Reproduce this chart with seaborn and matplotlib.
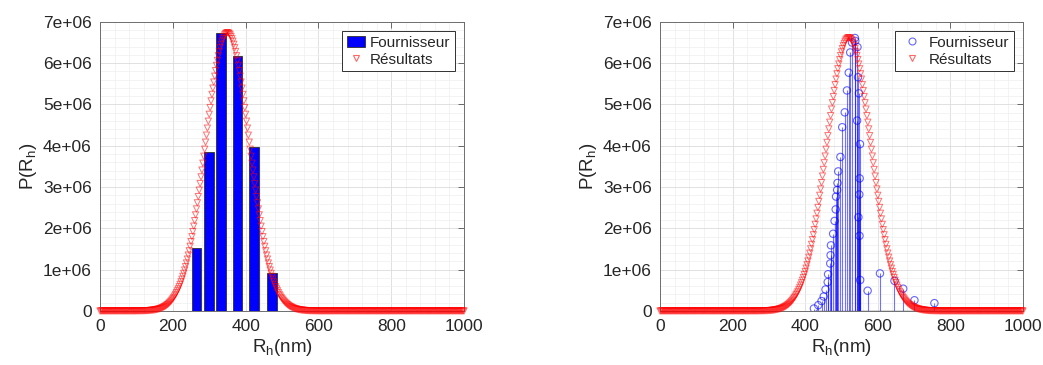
import numpy as np
import pandas as pd
import matplotlib
matplotlib.use("Agg")
import matplotlib.pyplot as plt
import seaborn as sns
from matplotlib.patches import Patch
from matplotlib.lines import Line2D
from matplotlib.ticker import MultipleLocator, FixedLocator, FixedFormatter

# ---------------- data (P values in units of 1e6) ----------------
bar_rh = [265, 300, 332, 377, 423, 472]
bar_p = [1.52, 3.86, 6.72, 6.17, 3.96, 0.91]

stem_rh = [424, 436, 445, 451, 456, 462, 463, 469, 470, 471, 477, 481, 484, 485,
           488, 489, 491, 497, 502, 509, 515, 520, 524, 529, 537, 538, 544, 545.5,
           548, 543, 551, 550, 549, 546.5, 549.5, 551.5, 572, 606, 646, 670, 701, 756]
stem_p = [0.06, 0.14, 0.24, 0.35, 0.52, 0.70, 0.89, 1.15, 1.35, 1.59, 1.87, 2.18, 2.46, 2.77,
          2.93, 3.10, 3.38, 3.73, 4.45, 4.81, 5.34, 5.77, 6.26, 6.50, 6.61, 6.54, 6.39, 5.66,
          5.27, 4.61, 4.04, 3.21, 2.82, 2.27, 1.82, 0.75, 0.49, 0.91, 0.73, 0.54, 0.26, 0.19]

fit_rh = np.arange(0, 1000.1, 2.5)

fit_left = [
    0, 0, 0, 0, 0, 0, 0, 0, 0, 0, 0, 0, 0, 0, 0, 0, 0, 0, 0, 0,
    0, 0, 0, 0, 0, 0, 0, 0, 0, 0, 0, 0, 0, 0, 0, 0, 0, 0, 0, 0,
    0.001,
    0.001, 0.001, 0.002, 0.002, 0.003, 0.003, 0.004, 0.004, 0.005, 0.006,
    0.007, 0.008, 0.009, 0.011, 0.013, 0.015, 0.017, 0.020, 0.023, 0.026,
    0.030, 0.034, 0.039, 0.045, 0.051, 0.058, 0.066, 0.075, 0.085, 0.096,
    0.108, 0.122, 0.137, 0.154, 0.172, 0.193, 0.215, 0.240, 0.267, 0.296,
    0.328, 0.363, 0.402, 0.443, 0.488, 0.536, 0.588, 0.645, 0.705, 0.770,
    0.839, 0.912, 0.991, 1.074, 1.162, 1.256, 1.354, 1.458, 1.567, 1.681,
    1.800, 1.924, 2.054, 2.188, 2.327, 2.471, 2.619, 2.771, 2.927, 3.086,
    3.248, 3.413, 3.579, 3.748, 3.918, 4.088, 4.258, 4.428, 4.596, 4.763,
    4.927, 5.088, 5.245, 5.397, 5.544, 5.686, 5.820, 5.948, 6.068, 6.180,
    6.282, 6.376, 6.459, 6.533, 6.595, 6.647, 6.688, 6.717, 6.734,
    6.740,
    6.734, 6.717, 6.688, 6.647, 6.595, 6.533, 6.459, 6.376, 6.282,
    6.180, 6.068, 5.948, 5.820, 5.686, 5.544, 5.397, 5.245, 5.088, 4.927,
    4.763, 4.596, 4.428, 4.258, 4.088, 3.918, 3.748, 3.579, 3.413, 3.248,
    3.086, 2.927, 2.771, 2.619, 2.471, 2.327, 2.188, 2.054, 1.924, 1.800,
    1.681, 1.567, 1.458, 1.354, 1.256, 1.162, 1.074, 0.991, 0.912, 0.839,
    0.770, 0.705, 0.645, 0.588, 0.536, 0.488, 0.443, 0.402, 0.363, 0.328,
    0.296, 0.267, 0.240, 0.215, 0.193, 0.172, 0.154, 0.137, 0.122, 0.108,
    0.096, 0.085, 0.075, 0.066, 0.058, 0.051, 0.045, 0.039, 0.034, 0.030,
    0.026, 0.023, 0.020, 0.017, 0.015, 0.013, 0.011, 0.009, 0.008, 0.007,
    0.006, 0.005, 0.004, 0.004, 0.003, 0.003, 0.002, 0.002, 0.001, 0.001,
    0.001,
    0, 0, 0, 0, 0, 0, 0, 0, 0, 0, 0, 0, 0, 0, 0, 0, 0, 0, 0, 0,
    0, 0, 0, 0, 0, 0, 0, 0, 0, 0, 0, 0, 0, 0, 0, 0, 0, 0, 0, 0,
    0, 0, 0, 0, 0, 0, 0, 0, 0, 0, 0, 0, 0, 0, 0, 0, 0, 0, 0, 0,
    0, 0, 0, 0, 0, 0, 0, 0, 0, 0, 0, 0, 0, 0, 0, 0, 0, 0, 0, 0,
    0, 0, 0, 0, 0, 0, 0, 0, 0, 0, 0, 0, 0, 0, 0, 0, 0, 0, 0, 0,
    0, 0, 0, 0, 0, 0, 0, 0, 0, 0, 0, 0, 0, 0, 0, 0, 0, 0, 0, 0,
    0, 0, 0, 0, 0, 0, 0, 0, 0, 0, 0, 0, 0, 0, 0, 0, 0, 0, 0, 0,
    0, 0, 0, 0, 0, 0, 0, 0, 0, 0, 0, 0, 0, 0, 0, 0, 0, 0, 0, 0,
]

fit_right = [
    0, 0, 0, 0, 0, 0, 0, 0, 0, 0, 0, 0, 0, 0, 0, 0, 0, 0, 0, 0,
    0, 0, 0, 0, 0, 0, 0, 0, 0, 0, 0, 0, 0, 0, 0, 0, 0, 0, 0, 0,
    0, 0, 0, 0, 0, 0, 0, 0, 0, 0, 0, 0, 0, 0, 0, 0, 0, 0, 0, 0,
    0, 0, 0, 0, 0, 0, 0, 0, 0, 0, 0, 0, 0, 0, 0, 0, 0, 0, 0, 0,
    0, 0, 0, 0, 0, 0, 0, 0, 0, 0, 0, 0, 0, 0, 0, 0, 0, 0, 0, 0,
    0, 0, 0, 0, 0, 0, 0, 0,
    0.001,
    0.002, 0.002, 0.002, 0.003, 0.003, 0.004, 0.005, 0.005, 0.006, 0.007,
    0.009, 0.010, 0.011, 0.013, 0.015, 0.018, 0.020, 0.023, 0.027, 0.031,
    0.035, 0.040, 0.046, 0.052, 0.059, 0.067, 0.075, 0.085, 0.096, 0.108,
    0.121, 0.136, 0.153, 0.171, 0.190, 0.212, 0.236, 0.262, 0.291, 0.322,
    0.356, 0.393, 0.432, 0.475, 0.522, 0.572, 0.626, 0.683, 0.745, 0.811,
    0.881, 0.956, 1.036, 1.120, 1.209, 1.302, 1.401, 1.505, 1.613, 1.727,
    1.845, 1.969, 2.097, 2.229, 2.366, 2.507, 2.653, 2.801, 2.954, 3.109,
    3.267, 3.427, 3.589, 3.752, 3.917, 4.081, 4.245, 4.409, 4.571, 4.731,
    4.889, 5.043, 5.193, 5.339, 5.480, 5.615, 5.744, 5.866, 5.980, 6.087,
    6.185, 6.274, 6.353, 6.423, 6.482, 6.532, 6.570, 6.598, 6.614,
    6.620,
    6.614, 6.598, 6.570, 6.532, 6.482, 6.423, 6.353, 6.274, 6.185,
    6.087, 5.980, 5.866, 5.744, 5.615, 5.480, 5.339, 5.193, 5.043, 4.889,
    4.731, 4.571, 4.409, 4.245, 4.081, 3.917, 3.752, 3.589, 3.427, 3.267,
    3.109, 2.954, 2.801, 2.653, 2.507, 2.366, 2.229, 2.097, 1.969, 1.845,
    1.727, 1.613, 1.505, 1.401, 1.302, 1.209, 1.120, 1.036, 0.956, 0.881,
    0.811, 0.745, 0.683, 0.626, 0.572, 0.522, 0.475, 0.432, 0.393, 0.356,
    0.322, 0.291, 0.262, 0.236, 0.212, 0.190, 0.171, 0.153, 0.136, 0.121,
    0.108, 0.096, 0.085, 0.075, 0.067, 0.059, 0.052, 0.046, 0.040, 0.035,
    0.031, 0.027, 0.023, 0.020, 0.018, 0.015, 0.013, 0.011, 0.010, 0.009,
    0.007, 0.006, 0.005, 0.005, 0.004, 0.003, 0.003, 0.002, 0.002, 0.002,
    0.001,
    0, 0, 0, 0, 0, 0, 0, 0, 0, 0, 0, 0, 0, 0, 0, 0, 0, 0, 0, 0,
    0, 0, 0, 0, 0, 0, 0, 0, 0, 0, 0, 0, 0, 0, 0, 0, 0, 0, 0, 0,
    0, 0, 0, 0, 0, 0, 0, 0, 0, 0, 0, 0, 0, 0, 0, 0, 0, 0, 0, 0,
    0, 0, 0, 0, 0, 0, 0, 0, 0, 0, 0, 0, 0, 0, 0, 0, 0, 0, 0, 0,
    0, 0, 0, 0, 0, 0, 0, 0, 0, 0, 0, 0,
]

x_ticks = [0, 200, 400, 600, 800, 1000]
x_tick_labels = ["0", "200", "400", "600", "800", "1000"]
y_ticks = [0, 1e6, 2e6, 3e6, 4e6, 5e6, 6e6, 7e6]
y_tick_labels = ["0", "1e+06", "2e+06", "3e+06", "4e+06", "5e+06", "6e+06", "7e+06"]
series_names = ["Fournisseur", "Résultats"]

SCALE = 1e6
df_bar = pd.DataFrame({"rh": bar_rh, "p": np.array(bar_p) * SCALE})
df_stem = pd.DataFrame({"rh": stem_rh, "p": np.array(stem_p) * SCALE})
df_fit_l = pd.DataFrame({"rh": fit_rh, "p": np.array(fit_left) * SCALE})
df_fit_r = pd.DataFrame({"rh": fit_rh, "p": np.array(fit_right) * SCALE})

# ---------------- style ----------------
sns.set_theme(style="white")
plt.rcParams["font.family"] = ["Liberation Sans", "DejaVu Sans"]
plt.rcParams["mathtext.fontset"] = "custom"
plt.rcParams["mathtext.rm"] = "Liberation Sans"
plt.rcParams["mathtext.it"] = "Liberation Sans"

fig = plt.figure(figsize=(10.43, 3.65), dpi=100)
ax1 = fig.add_axes([0.0959, 0.148, 0.349, 0.792])
ax2 = fig.add_axes([0.6328, 0.148, 0.348, 0.792])

BLUE = "#0000ff"
RED = "#ff0000"

# left: bars + fitted markers
sns.barplot(data=df_bar, x="rh", y="p", native_scale=True, width=26 / 32,
            color=BLUE, saturation=1, edgecolor="#303030", linewidth=0.6,
            ax=ax1, zorder=2)
sns.scatterplot(data=df_fit_l, x="rh", y="p", marker="v", s=20,
                color=RED, facecolor="none", edgecolor=RED, linewidth=0.7,
                alpha=0.55, clip_on=False, legend=False, ax=ax1, zorder=3)

# right: stems + circles + fitted markers
ax2.vlines(df_stem["rh"], 0, df_stem["p"], colors=BLUE, alpha=0.55,
           linewidth=0.8, zorder=2)
ax2.hlines(0, min(stem_rh), max(stem_rh), colors="#404040", linewidth=1.0, zorder=2)
sns.scatterplot(data=df_stem, x="rh", y="p", marker="o", s=28,
                color=BLUE, facecolor="none", edgecolor=BLUE, linewidth=0.8,
                alpha=0.6, legend=False, ax=ax2, zorder=3)
sns.scatterplot(data=df_fit_r, x="rh", y="p", marker="v", s=20,
                color=RED, facecolor="none", edgecolor=RED, linewidth=0.7,
                alpha=0.55, clip_on=False, legend=False, ax=ax2, zorder=4)

for ax in (ax1, ax2):
    ax.set_xlim(0, 1000)
    ax.set_ylim(0, 7e6)
    ax.xaxis.set_major_locator(FixedLocator(x_ticks))
    ax.xaxis.set_major_formatter(FixedFormatter(x_tick_labels))
    ax.yaxis.set_major_locator(FixedLocator(y_ticks))
    ax.yaxis.set_major_formatter(FixedFormatter(y_tick_labels))
    ax.xaxis.set_minor_locator(MultipleLocator(40))
    ax.yaxis.set_minor_locator(MultipleLocator(2e5))
    ax.set_axisbelow(True)
    ax.grid(True, which="major", color="#dcdcdc", linewidth=0.6)
    ax.grid(True, which="minor", color="#efefef", linewidth=0.5)
    ax.tick_params(which="major", direction="in", length=4, width=0.6,
                   top=True, right=True, color="#555555",
                   labelcolor="#262626", labelsize=12.5, pad=6)
    ax.tick_params(which="minor", length=0)
    for sp in ax.spines.values():
        sp.set_color("#6e6e6e")
        sp.set_linewidth(0.7)
    ax.set_xlabel(r"R$_\mathregular{h}$(nm)", fontsize=13.5, color="#262626", labelpad=2)
    ax.set_ylabel(r"P(R$_\mathregular{h}$)", fontsize=13.5, color="#262626", labelpad=3)

leg_kw = dict(loc="upper right", fontsize=11, frameon=True, fancybox=False,
              framealpha=1, edgecolor="#303030", borderaxespad=0.6,
              borderpad=0.3, labelspacing=0.2, handletextpad=0.3)

h_bar = Patch(facecolor=BLUE, edgecolor="#303030", linewidth=0.6)
h_tri = Line2D([], [], linestyle="none", marker="v", markersize=5,
               markerfacecolor="none", markeredgecolor=RED, alpha=0.6, markeredgewidth=0.8)
h_circ = Line2D([], [], linestyle="none", marker="o", markersize=5,
                markerfacecolor="none", markeredgecolor=BLUE, alpha=0.6, markeredgewidth=0.8)
leg1 = ax1.legend([h_bar, h_tri], series_names, handlelength=1.2, **leg_kw)
leg2 = ax2.legend([h_circ, h_tri], series_names, handlelength=1.6, **leg_kw)
for lg in (leg1, leg2):
    lg.get_frame().set_linewidth(0.7)

fig.savefig("out.png", dpi=100)
